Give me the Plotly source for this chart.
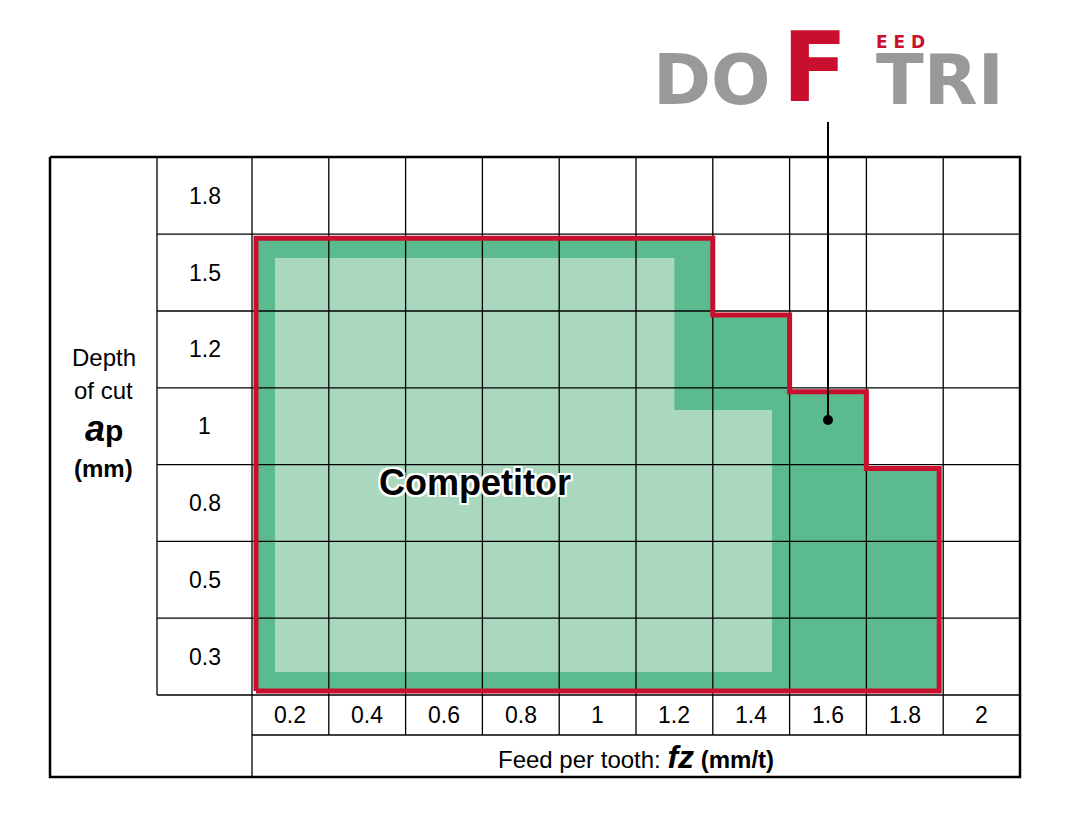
import plotly.graph_objects as go

fz_labels = ["0.2", "0.4", "0.6", "0.8", "1", "1.2", "1.4", "1.6", "1.8", "2"]
ap_labels = ["0.3", "0.5", "0.8", "1", "1.2", "1.5", "1.8"]  # bottom to top
# DOFTRI: number of ap rows covered for each fz column
doftri_rows = [6, 6, 6, 6, 6, 6, 5, 4, 3, 0]
# Competitor boundary (fz column units, ap row units)
comp_x = [0.3, 5.5, 5.5, 6.77, 6.77, 0.3]
comp_y = [5.69, 5.69, 3.71, 3.71, 0.3, 0.3]

X0, Y0, C = 252, 695, 76.8
def X(u): return X0 + u * C
def Y(v): return Y0 - v * C

LEFT, TOP, RIGHT, BOTTOM = 50, 157, 1020, 777
TICK_COL = 157
TICK_ROW_B = 735

fig = go.Figure()

poly_x = [X(0)]
poly_y = [Y(0)]
for i, r in enumerate(doftri_rows):
    if r == 0:
        break
    poly_x += [X(i), X(i + 1)]
    poly_y += [Y(r), Y(r)]
last = max(i for i, r in enumerate(doftri_rows) if r > 0) + 1
poly_x += [X(last), X(0)]
poly_y += [Y(0), Y(0)]
inset = 4
ix = [min(max(x, X(0) + inset), X(last) - inset) for x in poly_x]
iy = [min(y, Y(0) - inset) if y > Y(1) else y + inset for y in poly_y]

fig.add_trace(go.Scatter(x=ix, y=iy, fill="toself", fillcolor="#5bbb8f",
                         mode="none", hoverinfo="skip"))
fig.add_trace(go.Scatter(x=[X(u) for u in comp_x], y=[Y(v) for v in comp_y],
                         fill="toself", fillcolor="#a9d8bf", mode="none", hoverinfo="skip"))

gx, gy = [], []
for i in range(len(fz_labels) + 1):
    gx += [X(i), X(i), None]; gy += [TOP, TICK_ROW_B if 0 < i < len(fz_labels) else BOTTOM, None]
for j in range(len(ap_labels) + 1):
    gx += [TICK_COL, RIGHT, None]; gy += [Y(j), Y(j), None]
gx += [TICK_COL, TICK_COL, None]; gy += [TOP, Y(0), None]
gx += [X(0), RIGHT, None]; gy += [TICK_ROW_B, TICK_ROW_B, None]
fig.add_trace(go.Scatter(x=gx, y=gy, mode="lines", line=dict(color="black", width=1.3),
                         hoverinfo="skip"))
fig.add_trace(go.Scatter(x=[LEFT, RIGHT, RIGHT, LEFT, LEFT], y=[TOP, TOP, BOTTOM, BOTTOM, TOP],
                         mode="lines", line=dict(color="black", width=2.5), hoverinfo="skip"))

fig.add_trace(go.Scatter(x=ix, y=iy, mode="lines", line=dict(color="#c8102e", width=5),
                         hoverinfo="skip"))

fig.add_trace(go.Scatter(x=[828, 828], y=[122, 420], mode="lines",
                         line=dict(color="black", width=2), hoverinfo="skip"))
fig.add_trace(go.Scatter(x=[828], y=[420], mode="markers",
                         marker=dict(color="black", size=10), hoverinfo="skip"))

ann = []
F = "Liberation Sans, Arial"
for i, t in enumerate(fz_labels):
    ann.append(dict(x=X(i + 0.5), y=(Y0 + TICK_ROW_B) / 2, text=t, showarrow=False,
                    font=dict(size=23, color="black", family=F)))
for j, t in enumerate(ap_labels):
    ann.append(dict(x=(TICK_COL + X0) / 2, y=Y(j + 0.5), text=t, showarrow=False,
                    font=dict(size=23, color="black", family=F)))
ann.append(dict(x=(X0 + RIGHT) / 2, y=(TICK_ROW_B + BOTTOM) / 2 + 1, showarrow=False,
                text="Feed per tooth: <b><i><span style='font-size:32px'>fz</span></i> (mm/t)</b>",
                font=dict(size=24, color="black", family=F)))
cx = (LEFT + TICK_COL) / 2
ann.append(dict(x=cx, y=357, showarrow=False, text="Depth",
                font=dict(size=24, color="black", family=F)))
ann.append(dict(x=cx, y=390, showarrow=False, text="of cut",
                font=dict(size=24, color="black", family=F)))
ann.append(dict(x=cx, y=428, showarrow=False,
                text="<b><i><span style='font-size:36px'>a</span></i>p</b>",
                font=dict(size=30, color="black", family=F)))
ann.append(dict(x=cx, y=468, showarrow=False, text="<b>(mm)</b>",
                font=dict(size=24, color="black", family=F)))
ann.append(dict(x=475, y=482, text="<b>Competitor</b>", showarrow=False,
                font=dict(size=36, color="black", family=F,
                          shadow="2px 2px 0 white, -2px -2px 0 white, 2px -2px 0 white, -2px 2px 0 white, 0 2px 0 white, 2px 0 0 white, 0 -2px 0 white, -2px 0 0 white")))
LF = "DejaVu Sans, Liberation Sans"
ann.append(dict(x=712, y=80, text="<b>DO</b>", showarrow=False,
                font=dict(size=70, color="#999999", family=LF)))
ann.append(dict(x=815, y=68, text="<b>F</b>", showarrow=False,
                font=dict(size=96, color="#c8102e", family=LF)))
ann.append(dict(x=940, y=80, text="<b>TRI</b>", showarrow=False,
                font=dict(size=70, color="#999999", family=LF)))
ann.append(dict(x=900, y=42, text="<b>E E D</b>", showarrow=False,
                font=dict(size=17, color="#c8102e", family=LF)))
fig.update_layout(annotations=ann)

# page body has an 8px margin; shift the ranges so pixels line up
fig.update_layout(width=1082, height=818, margin=dict(l=0, r=0, t=0, b=0),
                  plot_bgcolor="white", paper_bgcolor="white", showlegend=False,
                  xaxis=dict(range=[8, 1090], visible=False, fixedrange=True),
                  yaxis=dict(range=[826, 8], visible=False, fixedrange=True))
fig.write_html("out.html")
